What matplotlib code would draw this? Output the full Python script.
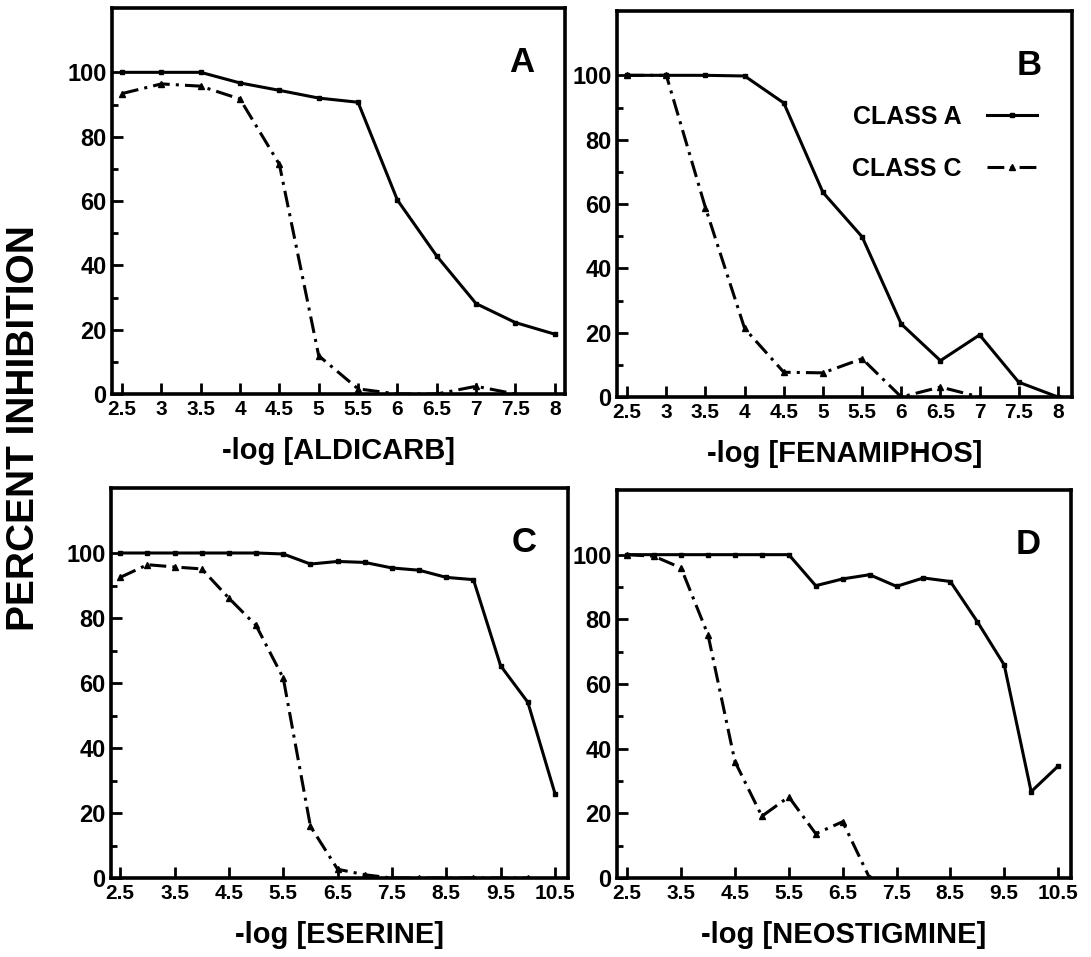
import matplotlib
matplotlib.use("Agg")
import matplotlib.pyplot as plt
from matplotlib.ticker import FixedLocator

plt.rcParams['font.family'] = ['Liberation Sans', 'DejaVu Sans']
plt.rcParams['font.weight'] = 'bold'

# ---- data ----
x_ab = [2.5, 3, 3.5, 4, 4.5, 5, 5.5, 6, 6.5, 7, 7.5, 8]
x_cd = [2.5, 3, 3.5, 4, 4.5, 5, 5.5, 6, 6.5, 7, 7.5, 8, 8.5, 9, 9.5, 10, 10.5]

a_classA = [100, 100, 100, 96.7, 94.4, 92, 90.7, 60.3, 42.9, 28.1, 22.2, 18.6]
a_classC = [93.4, 96.4, 95.7, 91.7, 71.4, 11.9, 1.6, 0, 0, 2.4, 0]

b_classA = [100, 100, 100, 99.8, 91.4, 63.6, 49.8, 22.7, 11.3, 19.3, 4.6, 0]
b_classC = [100, 100, 58.8, 21.3, 7.7, 7.5, 11.9, 0, 3.1, 0]

c_classA = [100, 100, 100, 100, 100, 100, 99.7, 96.6, 97.4, 97.1, 95.4, 94.7,
            92.5, 91.8, 65.3, 54.1, 26]
c_classC = [92.5, 96.4, 95.7, 95.1, 86.1, 77.7, 61.5, 15.9, 2.7, 1, 0, 0, 0, 0, 0, 0]

d_classA = [100, 100, 100, 100, 100, 100, 100, 90.4, 92.5, 93.8, 90.2, 92.8,
            91.7, 79.3, 65.9, 26.7, 34.6]
d_classC = [100, 99.5, 95.9, 75.2, 36, 19.1, 25.1, 13.7, 17.4, 0]

ticks_ab = [2.5, 3, 3.5, 4, 4.5, 5, 5.5, 6, 6.5, 7, 7.5, 8]
ticklabels_ab = ["2.5", "3", "3.5", "4", "4.5", "5", "5.5", "6", "6.5", "7", "7.5", "8"]
ticks_cd = [2.5, 3.5, 4.5, 5.5, 6.5, 7.5, 8.5, 9.5, 10.5]
ticklabels_cd = ["2.5", "3.5", "4.5", "5.5", "6.5", "7.5", "8.5", "9.5", "10.5"]

xlabels = ["-log [ALDICARB]", "-log [FENAMIPHOS]", "-log [ESERINE]", "-log [NEOSTIGMINE]"]
letters = ["A", "B", "C", "D"]
legend_labels = ["CLASS A", "CLASS C"]
ylabel = "PERCENT INHIBITION"

W, H = 1091, 957
fig = plt.figure(figsize=(W / 100, H / 100), dpi=100)


def add_axes(l, r, t, b):
    return fig.add_axes([l / W, 1 - b / H, (r - l) / W, (b - t) / H])


axA = add_axes(112, 565, 8, 394)
axB = add_axes(617, 1072, 11, 397)
axC = add_axes(111, 568, 488, 878)
axD = add_axes(617, 1071, 490, 878)

dashdot = (0, (5.5, 2.0, 1.0, 2.0))
lw = 2.2

panels = [
    (axA, x_ab, a_classA, a_classC, (2.373, 8.13), ticks_ab, ticklabels_ab),
    (axB, x_ab, b_classA, b_classC, (2.37, 8.18), ticks_ab, ticklabels_ab),
    (axC, x_cd, c_classA, c_classC, (2.33, 10.74), ticks_cd, ticklabels_cd),
    (axD, x_cd, d_classA, d_classC, (2.31, 10.74), ticks_cd, ticklabels_cd),
]

for i, (ax, xs, ya, yc, xl, tks, tls) in enumerate(panels):
    la, = ax.plot(xs[:len(ya)], ya, color='black', lw=lw, ls='-',
                  marker='s', ms=3.5, label=legend_labels[0])
    lc, = ax.plot(xs[:len(yc)], yc, color='black', lw=lw, ls=dashdot,
                  marker='^', ms=4, label=legend_labels[1])
    ax.set_xlim(*xl)
    ax.set_ylim(0, 120)
    ax.xaxis.set_major_locator(FixedLocator(tks))
    ax.set_xticklabels(tls)
    ax.yaxis.set_major_locator(FixedLocator([0, 20, 40, 60, 80, 100]))
    ax.yaxis.set_minor_locator(FixedLocator([10, 30, 50, 70, 90]))
    ax.tick_params(which='major', direction='in', length=8, width=2,
                   labelsize=15, pad=4)
    ax.tick_params(axis='y', which='major', labelsize=17, pad=4)
    ax.tick_params(which='minor', direction='in', length=4, width=2)
    for lab in ax.get_xticklabels() + ax.get_yticklabels():
        lab.set_fontweight('bold')
    for sp in ax.spines.values():
        sp.set_linewidth(2.6)
    ax.set_xlabel(xlabels[i], fontsize=21, fontweight='bold', labelpad=13)
    ax.text(0.905, 0.86, letters[i], transform=ax.transAxes, fontsize=25,
            fontweight='bold', ha='center', va='center')
    if i == 1:
        leg = ax.legend(handles=[la, lc], loc='upper right',
                        bbox_to_anchor=(0.972, 0.815), frameon=False,
                        markerfirst=False, handlelength=2.0,
                        handletextpad=1.0, labelspacing=1.12,
                        prop={'weight': 'bold', 'size': 18})

fig.text(24 / W, 1 - 428 / H, ylabel, rotation=90, fontsize=28,
         fontweight='bold', ha='center', va='center')

fig.savefig("out.png", dpi=100, facecolor='white')
